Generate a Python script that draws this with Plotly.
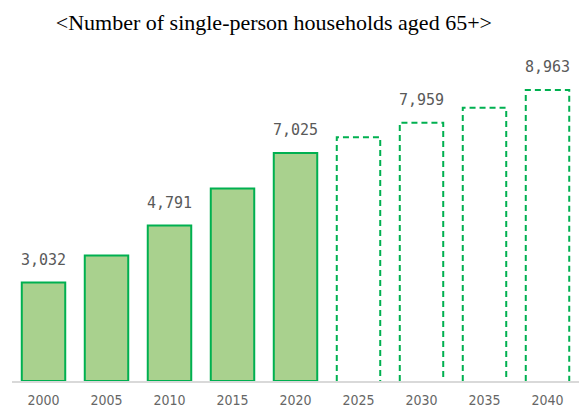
import plotly.graph_objects as go

years = ["2000", "2005", "2010", "2015", "2020", "2025", "2030", "2035", "2040"]
values = [3032, 3865, 4791, 5928, 7025, 7512, 7959, 8418, 8963]
projected = [False, False, False, False, False, True, True, True, True]
labeled = [True, False, True, False, True, False, True, False, True]

title_text = "&lt;Number of single-person households aged 65+&gt;"

fill_color = "#a9d18e"
edge_color = "#00b050"
bar_w = 0.69

idx = list(range(len(years)))
act_x = [i for i in idx if not projected[i]]
act_y = [values[i] for i in idx if not projected[i]]
proj_x = [i for i in idx if projected[i]]
proj_y = [values[i] for i in idx if projected[i]]

fig = go.Figure()
fig.add_trace(go.Bar(
    x=act_x, y=act_y, width=bar_w,
    marker=dict(color=fill_color, line=dict(color=edge_color, width=2)),
    hovertemplate="%{y:,}<extra></extra>",
))
fig.add_trace(go.Bar(
    x=proj_x, y=proj_y, width=bar_w,
    marker=dict(color="rgba(0,0,0,0)", line=dict(width=0)),
    hovertemplate="%{y:,}<extra></extra>",
))

shapes = []
for x, y in zip(proj_x, proj_y):
    shapes.append(dict(
        type="path", xref="x", yref="y",
        path=f"M {x - bar_w/2} 0 L {x - bar_w/2} {y} L {x + bar_w/2} {y} L {x + bar_w/2} 0",
        line=dict(color=edge_color, width=2, dash="6px,4px"),
    ))

annotations = []
for i in idx:
    if labeled[i]:
        annotations.append(dict(
            x=i, y=values[i], xref="x", yref="y",
            text=f"{values[i]:,}", showarrow=False,
            yanchor="bottom", yshift=12,
            font=dict(family="DejaVu Sans Mono", size=15, color="#595959"),
        ))

fig.update_layout(
    width=579, height=410,
    margin=dict(l=12, r=0, t=60, b=29),
    paper_bgcolor="white", plot_bgcolor="white",
    showlegend=False,
    barmode="overlay",
    title=dict(text=title_text, x=0.473, xanchor="center", y=0.945, yanchor="middle",
               font=dict(family="Liberation Serif", size=22, color="black")),
    shapes=shapes,
    annotations=annotations,
    xaxis=dict(
        range=[-0.5, 8.5], automargin=False,
        tickmode="array", tickvals=idx, ticktext=years,
        showgrid=False, zeroline=False,
        showline=True, linecolor="#d9d9d9", linewidth=2,
        ticks="outside", ticklen=5, tickcolor="rgba(0,0,0,0)",
        tickfont=dict(family="DejaVu Sans Condensed", size=14, color="#666666"),
    ),
    yaxis=dict(range=[0, 9890], visible=False, showgrid=False, zeroline=False),
)

fig.write_html("out.html", config={"displayModeBar": False},
               post_script="document.body.style.margin='0';")
